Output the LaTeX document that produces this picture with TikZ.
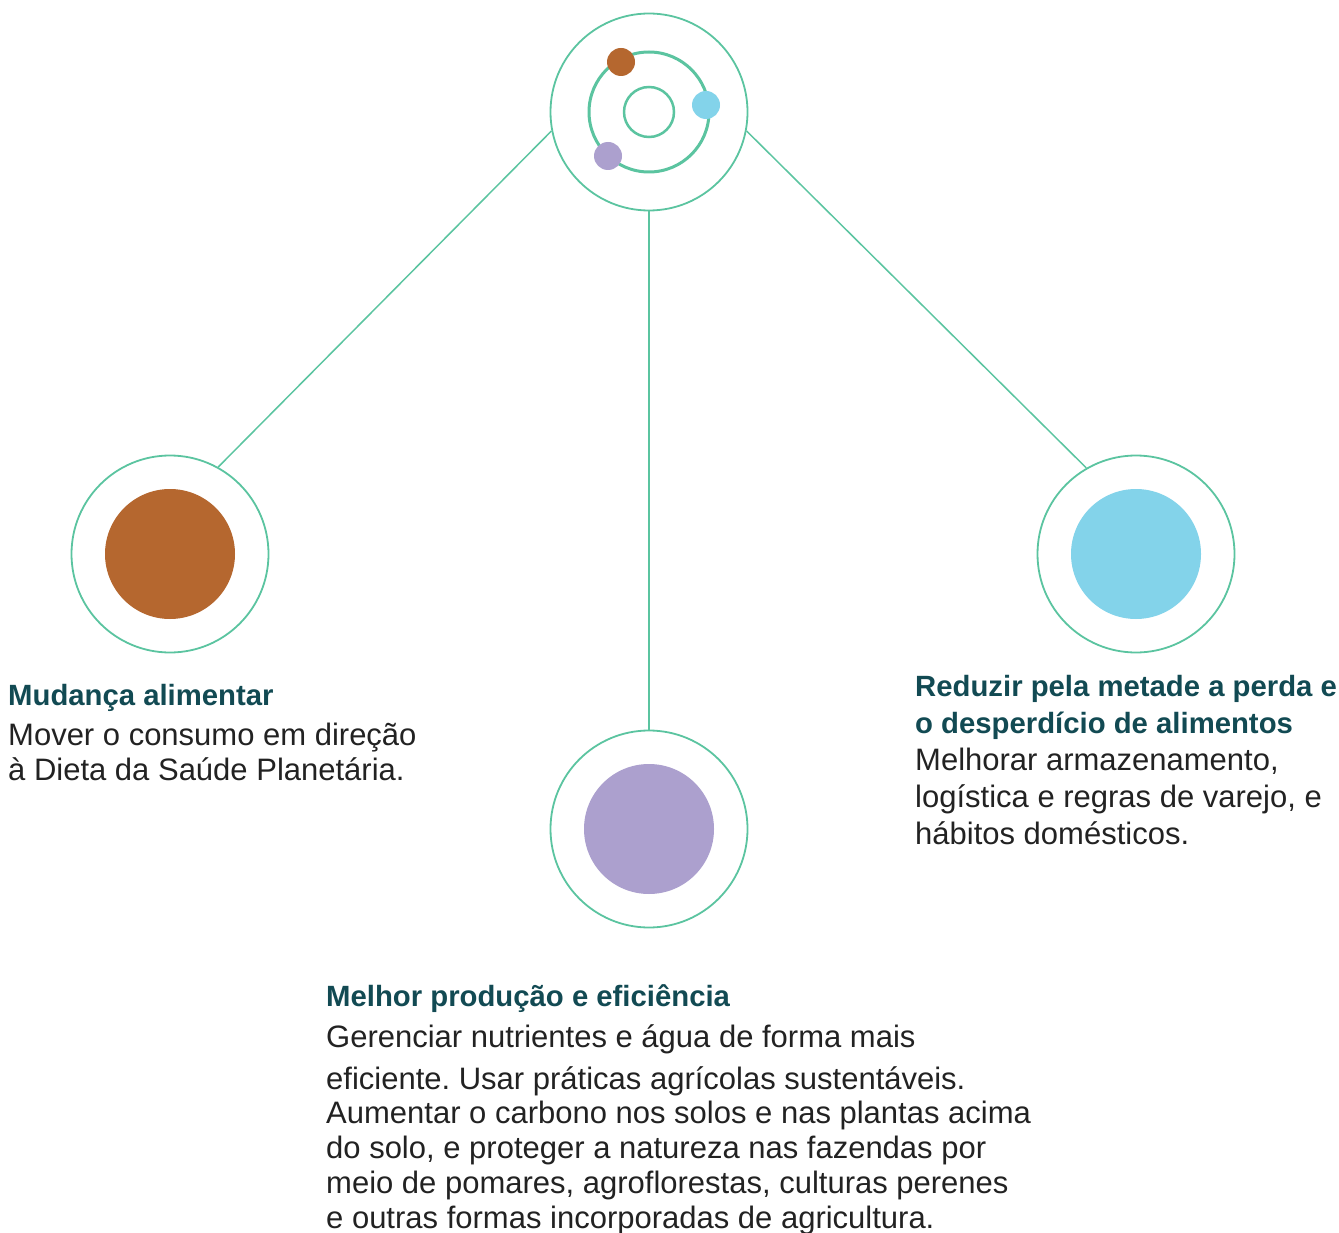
\documentclass[tikz,border=0pt]{standalone}
\usepackage{fontspec}
\setmainfont{Liberation Sans}
\frenchspacing
\definecolor{ring}{HTML}{5BC4A0}
\definecolor{cbrown}{HTML}{B5672F}
\definecolor{cblue}{HTML}{83D3EA}
\definecolor{cpurple}{HTML}{ACA0CE}
\definecolor{ctitle}{HTML}{124A53}
\definecolor{cbody}{HTML}{222222}
\tikzset{
  bigring/.style={circle, draw=ring, line width=1.8pt, minimum size=197pt, inner sep=0pt, fill=white},
  disc/.style={circle, minimum size=130pt, inner sep=0pt},
  dot/.style={circle, minimum size=28pt, inner sep=0pt},
  conn/.style={draw=ring, line width=1.5pt},
  ttl/.style={anchor=base west, inner sep=0pt, text=ctitle, font=\fontsize{29.3}{35}\selectfont\bfseries},
  bdy/.style={anchor=base west, inner sep=0pt, text=cbody, font=\fontsize{31}{35}\selectfont},
}
\begin{document}
\begin{tikzpicture}[x=1pt,y=-1pt]
\useasboundingbox (0,0) rectangle (1339,1233);
\node[bigring] (top) at (649,112) {};
\node[bigring] (left) at (170,554) {};
\node[bigring] (right) at (1136,554) {};
\node[bigring] (bot) at (649,829) {};
\draw[conn] (top.191.6) -- (left.61.9);
\draw[conn] (top.349.6) -- (right.120.8);
\draw[conn] (top.south) -- (bot.north);
% top emblem
\node[circle, draw=ring, line width=3pt, minimum size=120pt, inner sep=0pt] (orbit) at (649,112) {};
\node[circle, draw=ring, line width=2.5pt, minimum size=50pt, inner sep=0pt] (core) at (649,112) {};
\node[dot, fill=cbrown] (d1) at (621,62) {};
\node[dot, fill=cblue] (d2) at (706,105) {};
\node[dot, fill=cpurple] (d3) at (608,156) {};
% discs
\node[disc, fill=cbrown] (ldisc) at (170,554) {};
\node[disc, fill=cblue] (rdisc) at (1136,554) {};
\node[disc, fill=cpurple] (bdisc) at (649,829) {};
% left text
\node[ttl] (lt) at (8,705) {Mudança alimentar};
\node[bdy] (lb1) at (8,745) {Mover o consumo em direção};
\node[bdy] (lb2) at (8,780) {à Dieta da Saúde Planetária.};
% right text
\node[ttl] (rt1) at (915,696) {Reduzir pela metade a perda e};
\node[ttl] (rt2) at (915,733) {o desperdício de alimentos};
\node[bdy] (rb1) at (915,770) {Melhorar armazenamento,};
\node[bdy] (rb2) at (915,807) {logística e regras de varejo, e};
\node[bdy] (rb3) at (915,844) {hábitos domésticos.};
% bottom text
\node[ttl] (bt) at (326,1006) {Melhor produção e eficiência};
\node[bdy] (bb1) at (326,1047) {Gerenciar nutrientes e água de forma mais};
\node[bdy] (bb2) at (326,1089) {eficiente. Usar práticas agrícolas sustentáveis.};
\node[bdy] (bb3) at (326,1123) {Aumentar o carbono nos solos e nas plantas acima};
\node[bdy] (bb4) at (326,1158) {do solo, e proteger a natureza nas fazendas por};
\node[bdy] (bb5) at (326,1193) {meio de pomares, agroflorestas, culturas perenes};
\node[bdy] (bb6) at (326,1228) {e outras formas incorporadas de agricultura.};
\end{tikzpicture}
\end{document}
